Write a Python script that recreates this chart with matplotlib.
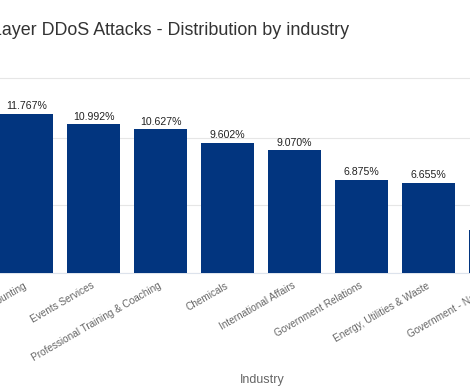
import numpy as np
import matplotlib.pyplot as plt

plt.rcParams['font.family'] = ['Liberation Sans', 'DejaVu Sans']

# data (the chart is cropped on both sides)
industries = ["Accounting", "Events Services", "Professional Training & Coaching",
              "Chemicals", "International Affairs", "Government Relations",
              "Energy, Utilities & Waste", "Government - National"]
shares = [11.767, 10.992, 10.627, 9.602, 9.070, 6.875, 6.655, 3.19]

BAR_COLOR = "#02357f"
GRID_COLOR = "#e6e6e6"

W, H = 470, 392
PX_PER_CAT = 67
fig = plt.figure(figsize=(W / 100, H / 100), dpi=100)
# axes run past the right edge so the last (cropped) tick label still gets drawn
AX_W = 1.25
ax = fig.add_axes([0, (H - 273) / H, AX_W, (273 - 78) / H])

x = np.arange(len(industries))
bars = ax.bar(x, shares, width=0.79, color=BAR_COLOR, zorder=3)

for xi, v in zip(x, shares):
    ax.annotate(f"{v:.3f}%", (xi, v), textcoords="offset points", xytext=(0, 2),
                ha='center', va='bottom', fontsize=7.6, color="#222222",
                annotation_clip=False)

ax.set_yticks([0, 5, 10])
ax.yaxis.set_tick_params(length=0, labelleft=False)
ax.grid(axis='y', color=GRID_COLOR, linewidth=0.8, zorder=0)

ax.set_xticks(x)
ax.set_xticklabels(industries, rotation=30, ha='right', rotation_mode='anchor',
                   va='center', fontsize=7.2, color="#666666")
ax.tick_params(axis='x', length=0, pad=8.5)

# limits after the ticks, so set_xticks does not widen them
x0 = -26.5 / PX_PER_CAT
ax.set_xlim(x0, x0 + AX_W * W / PX_PER_CAT)
ax.set_ylim(0, 14.42)
ax.axhline(14.42, color=GRID_COLOR, linewidth=0.8, clip_on=False)

for side in ['top', 'left', 'right']:
    ax.spines[side].set_visible(False)
ax.spines['bottom'].set_color("#dde3ec")
ax.spines['bottom'].set_linewidth(0.8)

fig.text(262 / W, (H - 380) / H, "Industry", ha='center', va='center',
         fontsize=9, color="#666666")

fig.text(349 / W, (H - 35) / H,
         "Application Layer DDoS Attacks - Distribution by industry",
         ha='right', va='baseline', fontsize=12.9, color="#333333")

fig.savefig("out.png", dpi=100)
